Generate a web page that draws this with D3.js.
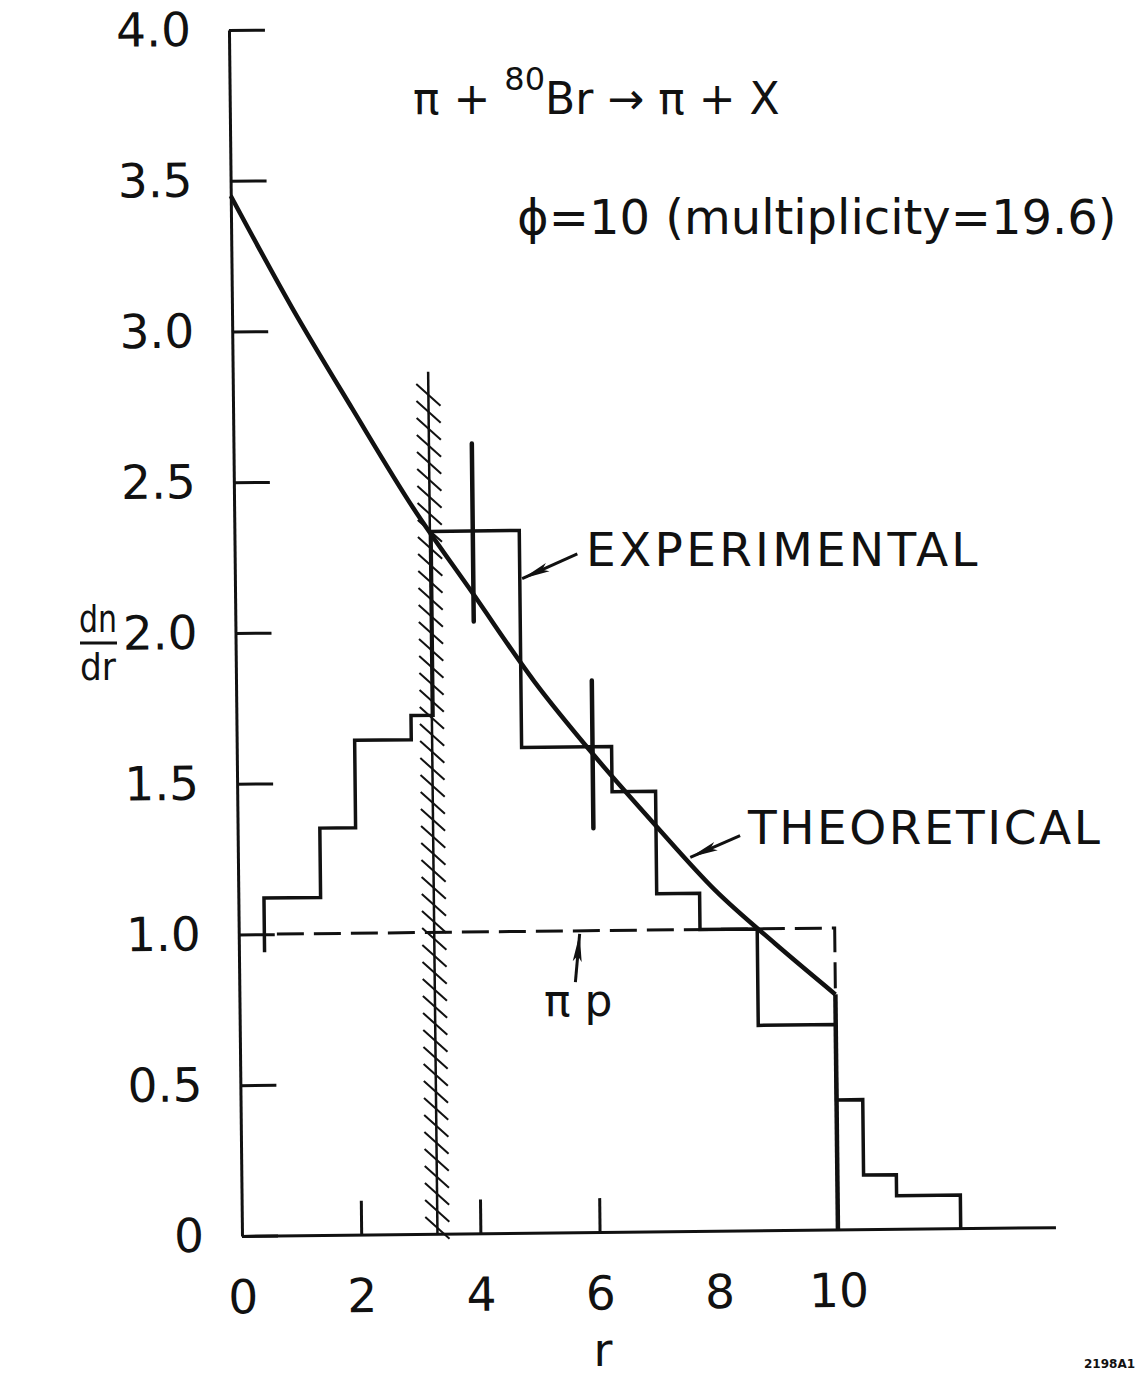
<!DOCTYPE html>
<html>
<head>
<meta charset="utf-8">
<script src="https://cdn.jsdelivr.net/npm/d3@7"></script>
<style>
  body { margin: 0; background: #fff; }
  svg text { font-family: "DejaVu Sans", sans-serif; fill: #111; }
</style>
</head>
<body>
<svg width="1138" height="1380"></svg>
<script>
// axis ticks
const yTicks = [0, 0.5, 1, 1.5, 2, 2.5, 3, 3.5, 4];
const xLabels = [0, 2, 4, 6, 8, 10];
const xTickMarks = [2, 4, 6];

// experimental histogram (bin edges in r, heights in dn/dr)
const binEdges = [0.43, 1.38, 1.98, 2.93, 3.30, 4.78, 6.29, 7.02, 7.74, 8.70, 10.0, 10.44, 10.99, 12.06];
const binValues = [1.12, 1.35, 1.64, 1.72, 2.33, 1.61, 1.46, 1.12, 1.00, 0.68, 0.43, 0.18, 0.11];
const firstEdgeLow = 0.94;

// error bars
const errR = [4.0, 5.97];
const errLo = [2.03, 1.34];
const errHi = [2.62, 1.83];

// theoretical curve
const theoryR = [0, 1, 2, 3, 4, 5, 6, 7, 8, 9, 10];
const theoryV = [3.45, 3.08, 2.74, 2.41, 2.12, 1.83, 1.58, 1.35, 1.13, 0.95, 0.78];
const cutoffR = 10.0;

// pi-p reference level
const piPR = [0.64, 10.0];
const piPLevel = 1.0;
const piPDropTo = 0.80;

// hatched boundary
const hatchR = 3.28;
const hatchTop = 2.86;

const svg = d3.select("svg");
const ink = "#111";

// the scanned page sits slightly rotated
const origin = [242, 1236];
const x = d3.scaleLinear().domain([0, 13.65]).range([0, 813.5]);
const y = d3.scaleLinear().domain([0, 4]).range([0, -1206]);

const g = svg.append("g")
    .attr("transform", `translate(${origin[0]},${origin[1]}) rotate(-0.62)`);

// arrowhead
svg.append("defs").append("marker")
    .attr("id", "head")
    .attr("markerUnits", "userSpaceOnUse")
    .attr("viewBox", "0 -5 28 10")
    .attr("refX", 28).attr("refY", 0)
    .attr("markerWidth", 28).attr("markerHeight", 10)
    .attr("orient", "auto")
    .append("path")
    .attr("d", "M0,-4.5L28,0L0,4.5L6,0Z")
    .attr("fill", ink);

// y axis
const yAxis = g.append("g")
    .call(d3.axisLeft(y)
        .tickValues(yTicks)
        .tickSizeInner(-36)
        .tickSizeOuter(0)
        .tickPadding(38)
        .tickFormat(d => d === 0 ? "0" : d3.format(".1f")(d)));

// x axis
const xAxis = g.append("g")
    .call(d3.axisBottom(x)
        .tickValues(xLabels)
        .tickSizeInner(-34)
        .tickSizeOuter(0)
        .tickPadding(44)
        .tickFormat(d3.format("d")));

xAxis.selectAll(".tick line")
    .filter(d => !xTickMarks.includes(d))
    .remove();

[yAxis, xAxis].forEach(a => {
    a.attr("font-size", null).attr("font-family", null);
    a.selectAll("path, line").attr("stroke", ink).attr("stroke-width", 3);
    a.selectAll("text").attr("font-size", 47).attr("fill", ink);
});

// pi-p dashed level
g.append("path")
    .attr("d", d3.line()([
        [x(piPR[0]), y(piPLevel)],
        [x(piPR[1]), y(piPLevel)],
        [x(piPR[1]), y(piPDropTo)]
    ]))
    .attr("fill", "none")
    .attr("stroke", ink)
    .attr("stroke-width", 3)
    .attr("stroke-dasharray", "27,10");

// hatched boundary line
g.append("line")
    .attr("x1", x(hatchR)).attr("x2", x(hatchR))
    .attr("y1", y(0)).attr("y2", y(hatchTop))
    .attr("stroke", ink).attr("stroke-width", 2.5);

g.append("g").selectAll("line")
    .data(d3.range(y(0) - 6, y(hatchTop) + 14, -17))
    .join("line")
    .attr("x1", x(hatchR) - 12).attr("y1", d => d - 11)
    .attr("x2", x(hatchR) + 12).attr("y2", d => d + 11)
    .attr("stroke", ink).attr("stroke-width", 2);

// experimental histogram
const histPts = [[binEdges[0], firstEdgeLow]];
binValues.forEach((v, i) => {
    histPts.push([binEdges[i], v]);
    histPts.push([binEdges[i + 1], v]);
});
histPts.push([binEdges[binEdges.length - 1], 0]);

g.append("path")
    .attr("d", d3.line().x(d => x(d[0])).y(d => y(d[1]))(histPts))
    .attr("fill", "none")
    .attr("stroke", ink)
    .attr("stroke-width", 3.5)
    .attr("stroke-linejoin", "miter");

// error bars
g.append("g").selectAll("line")
    .data(errR)
    .join("line")
    .attr("x1", d => x(d)).attr("x2", d => x(d))
    .attr("y1", (d, i) => y(errLo[i]))
    .attr("y2", (d, i) => y(errHi[i]))
    .attr("stroke", ink)
    .attr("stroke-width", 4.5)
    .attr("stroke-linecap", "round");

// theoretical curve
const theory = theoryR.map((r, i) => [r, theoryV[i]]);
g.append("path")
    .attr("d", d3.line().x(d => x(d[0])).y(d => y(d[1])).curve(d3.curveMonotoneX)(theory))
    .attr("fill", "none")
    .attr("stroke", ink)
    .attr("stroke-width", 4.5);

g.append("line")
    .attr("x1", x(cutoffR)).attr("x2", x(cutoffR))
    .attr("y1", y(theoryV[theoryV.length - 1])).attr("y2", y(0))
    .attr("stroke", ink).attr("stroke-width", 4.5);

// annotation arrows (tail -> head, in data units)
const arrows = [
    [[5.75, 2.25], [4.82, 2.17]],
    [[8.43, 1.31], [7.59, 1.24]],
    [[5.64, 0.83], [5.72, 0.99]]
];
g.append("g").selectAll("line")
    .data(arrows)
    .join("line")
    .attr("x1", d => x(d[0][0])).attr("y1", d => y(d[0][1]))
    .attr("x2", d => x(d[1][0])).attr("y2", d => y(d[1][1]))
    .attr("stroke", ink).attr("stroke-width", 3)
    .attr("marker-end", "url(#head)");

// labels
const label = (tx, ty, txt, size, anchor) => svg.append("text")
    .attr("x", tx).attr("y", ty)
    .attr("font-size", size)
    .attr("text-anchor", anchor || "start")
    .text(txt);

label(586, 566, "EXPERIMENTAL", 47).attr("letter-spacing", 3.3);
label(748, 844, "THEORETICAL", 47).attr("letter-spacing", 2.5);
label(544, 1016, "π p", 44);

const t1 = svg.append("text").attr("x", 413).attr("y", 114).attr("font-size", 44);
t1.append("tspan").text("π + ");
t1.append("tspan").attr("font-size", 32).attr("dy", -24).text("80");
t1.append("tspan").attr("dy", 24).text("Br → π + X");

label(517, 234, "ϕ=10 (multiplicity=19.6)", 48);

// y axis title dn/dr
label(98, 632, "dn", 38, "middle").attr("textLength", 38).attr("lengthAdjust", "spacingAndGlyphs");
svg.append("line")
    .attr("x1", 80).attr("x2", 117)
    .attr("y1", 643).attr("y2", 643)
    .attr("stroke", ink).attr("stroke-width", 3);
label(98, 680, "dr", 38, "middle").attr("textLength", 36).attr("lengthAdjust", "spacingAndGlyphs");

label(603, 1366, "r", 46, "middle");
label(1084, 1368, "2198A1", 12).attr("font-weight", "bold");
</script>
</body>
</html>
